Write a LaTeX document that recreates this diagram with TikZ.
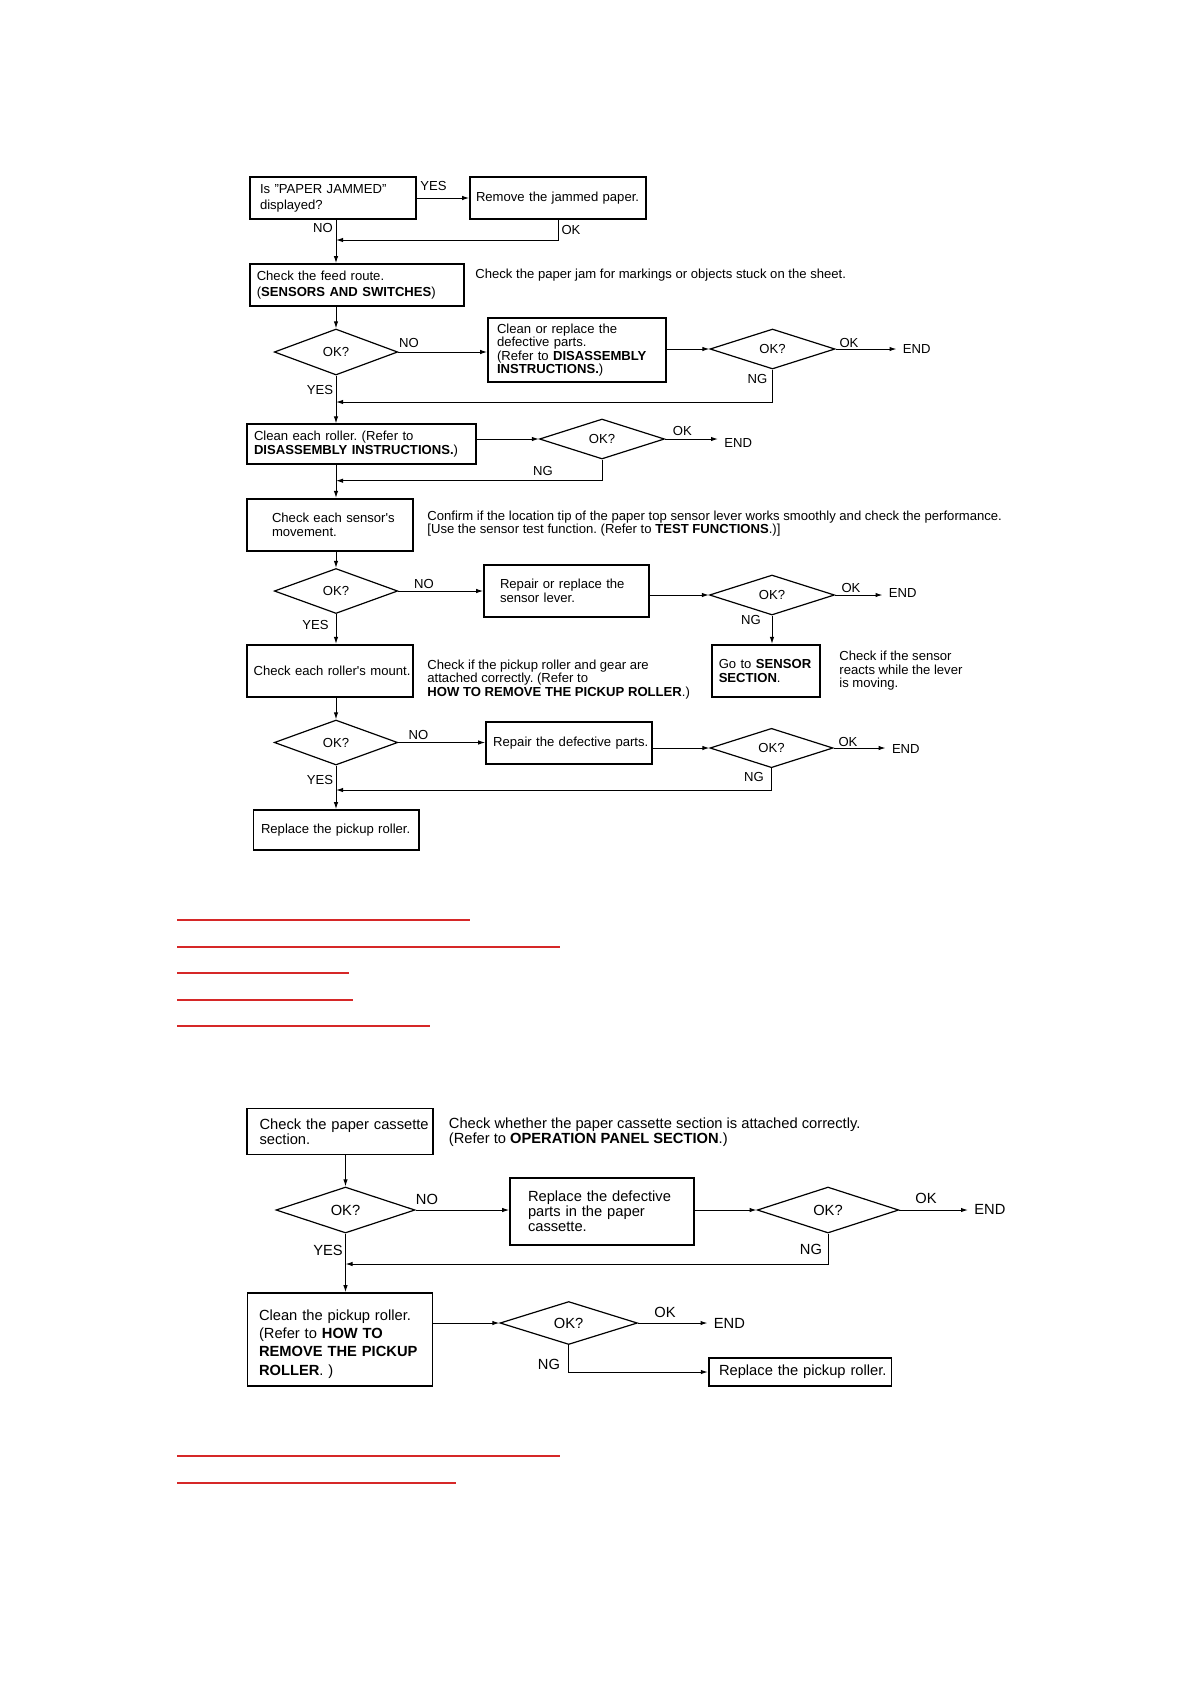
\documentclass[tikz,border=0pt]{standalone}
\usepackage{fontspec}
\setmainfont{Liberation Sans}
\usetikzlibrary{shapes.geometric,arrows.meta}
\definecolor{linkred}{RGB}{214,40,40}
\newcommand\chartfont{\fontsize{6.55}{6.7}\selectfont}
\newcommand\widefont{\fontsize{6.55}{8}\selectfont}
\newcommand\cassfont{\fontsize{7.35}{7.6}\selectfont}
\frenchspacing

\begin{document}
\begin{tikzpicture}[x=0.5pt,y=-0.5pt,
  box/.style={draw,line width=0.8pt,align=left,inner ysep=1pt,font=\chartfont},
  dia/.style={diamond,draw,line width=0.6pt,inner sep=0pt,font=\chartfont},
  lbl/.style={inner sep=0pt,font=\chartfont},
  endlbl/.style={lbl,anchor=west,inner xsep=3pt},
  note/.style={anchor=west,align=left,inner sep=0pt,font=\chartfont},
  flow/.style={line width=0.5pt,-{Latex[length=3.5pt,width=2.2pt]}},
  link/.style={linkred,line width=0.6pt}]
\useasboundingbox (0,0) rectangle (1190,1682);

% paper jam chart
\node[box,font=\widefont,text width=73pt,inner xsep=5pt,minimum height=21pt] at (333,198) (isjam) {Is "PAPER JAMMED"\\displayed?};
\node[box,text width=82pt,inner xsep=3pt,minimum height=21pt] at (558,198) (remove) {Remove the jammed paper.};
\node[box,font=\widefont,text width=100.25pt,inner xsep=3.25pt,minimum height=21pt] at (357,285) (feed) {Check the feed route.\\(\textbf{SENSORS AND SWITCHES})};
\node[note] at (475,275) (note1) {Check the paper jam for markings or objects stuck on the sheet.};

\node[dia,minimum width=61.7pt,minimum height=23pt] at (336,352) (d1) {OK?};
\node[box,text width=80pt,inner xsep=4.5pt,minimum height=32.2pt] at (577,350) (clean1) {Clean or replace the\\defective parts.\\(Refer to \textbf{DISASSEMBLY}\\\textbf{INSTRUCTIONS.})};
\node[dia,minimum width=62.5pt,minimum height=20pt] at (772.5,349) (d2) {OK?};
\node[endlbl] at (896.5,349) (end1) {END};

\node[box,text width=107.5pt,inner xsep=3.5pt,minimum height=19.75pt] at (361.5,444) (roller1) {Clean each roller. (Refer to\\\textbf{DISASSEMBLY INSTRUCTIONS.})};
\node[dia,minimum width=62.5pt,minimum height=20pt] at (602,439) (d3) {OK?};
\node[endlbl] at (718,443) (end2) {END};

\node[box,text width=58pt,inner xsep=12.5pt,minimum height=26.25pt] at (330,525) (sensor) {\mbox{Check each sensor\textquotesingle s}\\movement.};
\node[note] at (427,523.5) (note2) {Confirm if the location tip of the paper top sensor lever works smoothly and check the performance.\\{[}Use the sensor test function. (Refer to \textbf{TEST FUNCTIONS}.)]};

\node[dia,minimum width=61.7pt,minimum height=22.5pt] at (336,591) (d4) {OK?};
\node[box,text width=66.5pt,inner xsep=8pt,minimum height=25.75pt] at (566.5,591) (lever) {Repair or replace the\\sensor lever.};
\node[dia,minimum width=62.5pt,minimum height=20pt] at (772,595) (d5) {OK?};
\node[endlbl] at (882.5,593) (end3) {END};

\node[box,text width=76.4pt,inner xsep=3.3pt,minimum height=26.25pt] at (330,671) (mount) {\mbox{Check each roller\textquotesingle s mount.}};
\node[note] at (427,679.5) (note3) {Check if the pickup roller and gear are\\attached correctly. (Refer to\\\textbf{HOW TO REMOVE THE PICKUP ROLLER}.)};
\node[box,text width=47.25pt,inner xsep=3.25pt,minimum height=26.25pt] at (766,671) (sensorsec) {Go to \textbf{SENSOR}\\\textbf{SECTION}.};
\node[note] at (839,671) (note4) {Check if the sensor\\reacts while the lever\\is moving.};

\node[dia,minimum width=61.7pt,minimum height=22.5pt] at (336,742.5) (d6) {OK?};
\node[box,text width=75.8pt,inner xsep=3.6pt,minimum height=21pt] at (569,743) (repair) {\mbox{Repair the defective parts.}};
\node[dia,minimum width=61.5pt,minimum height=19.7pt] at (771.5,748) (d7) {OK?};
\node[endlbl] at (885.6,749) (end4) {END};

\node[box,text width=75pt,inner xsep=3.85pt,minimum height=20pt] at (336,830) (replace) {Replace the pickup roller.};

% branch labels
\node[lbl] at (433.5,185.6) (yes1) {YES};
\node[lbl] at (323,227.5) (no1) {NO};
\node[lbl] at (571,229.6) (ok1) {OK};
\node[lbl] at (409,343) (no2) {NO};
\node[lbl] at (849,343) (ok2) {OK};
\node[lbl] at (757.5,379) (ng2) {NG};
\node[lbl] at (320,389.5) (yes2) {YES};
\node[lbl] at (682.4,431) (ok3) {OK};
\node[lbl] at (543,471) (ng3) {NG};
\node[lbl] at (424,584) (no4) {NO};
\node[lbl] at (851,588) (ok5) {OK};
\node[lbl] at (751,620) (ng5) {NG};
\node[lbl] at (315.5,624.5) (yes4) {YES};
\node[lbl] at (418.5,735) (no6) {NO};
\node[lbl] at (848,741.5) (ok7) {OK};
\node[lbl] at (754,777) (ng7) {NG};
\node[lbl] at (320,780) (yes6) {YES};

\coordinate (j1) at (336,240);
\coordinate (j2) at (336,402);
\coordinate (j3) at (336,480.7);
\coordinate (j4) at (336,790);

\draw[flow] (isjam.east) -- (remove.west);
\draw[flow] (remove.south) |- (j1);
\draw[flow] (isjam.south -| j1) -- (feed.north -| j1);
\draw[flow] (feed.south -| d1) -- (d1.north);
\draw[flow] (d1.east) -- (d1.east -| clean1.west);
\draw[flow] (clean1.east |- d2) -- (d2.west);
\draw[flow] (d2.east) -- (d2.east -| end1.west);
\draw[flow] (d2.south) |- (j2);
\draw[flow] (d1.south) -- (roller1.north -| d1);
\draw[flow] (roller1.east |- d3) -- (d3.west);
\draw[flow] (d3.east) -- (d3.east -| end2.west);
\draw[flow] (d3.south) |- (j3);
\draw[flow] (roller1.south -| j3) -- (sensor.north -| j3);
\draw[flow] (sensor.south -| d4) -- (d4.north);
\draw[flow] (d4.east) -- (d4.east -| lever.west);
\draw[flow] (lever.east |- d5) -- (d5.west);
\draw[flow] (d5.east) -- (d5.east -| end3.west);
\draw[flow] (d5.south) -- (sensorsec.north -| d5);
\draw[flow] (d4.south) -- (mount.north -| d4);
\draw[flow] (mount.south -| d6) -- (d6.north);
\draw[flow] (d6.east) -- (d6.east -| repair.west);
\draw[flow] (repair.east |- d7) -- (d7.west);
\draw[flow] (d7.east) -- (d7.east -| end4.west);
\draw[flow] (d7.south) |- (j4);
\draw[flow] (d6.south) -- (replace.north -| d6);

% links
\draw[link] (177,920) -- (470,920);
\draw[link] (177,947) -- (560,947);
\draw[link] (177,973) -- (349,973);
\draw[link] (177,1000) -- (353,1000);
\draw[link] (177,1026) -- (430,1026);

% paper cassette chart
\node[box,font=\cassfont,text width=80.45pt,inner xsep=6.4pt,minimum height=23pt] at (340,1131.5) (cassette) {\mbox{Check the paper cassette}\\section.};
\node[note,font=\cassfont] at (448.5,1132) (note5) {Check whether the paper cassette section is attached correctly.\\(Refer to \textbf{OPERATION PANEL SECTION}.)};
\node[dia,font=\cassfont,minimum width=69.5pt,minimum height=23pt] at (345.5,1210) (d8) {OK?};
\node[box,font=\cassfont,text width=74pt,inner xsep=9pt,minimum height=33.5pt] at (602,1211.5) (cassrep) {Replace the defective\\parts in the paper\\cassette.};
\node[dia,font=\cassfont,minimum width=70.75pt,minimum height=23pt] at (828,1210) (d9) {OK?};
\node[endlbl,font=\cassfont] at (968,1209) (end5) {END};
\node[box,font=\fontsize{7.35}{9.1}\selectfont,text width=81pt,inner xsep=5.8pt,minimum height=46.5pt] at (340,1339.5) (pickup) {\rule{0pt}{9.8pt}Clean the pickup roller.\\(Refer to \textbf{HOW TO}\\\textbf{REMOVE THE PICKUP}\\\textbf{ROLLER}. )};
\node[dia,font=\cassfont,minimum width=68.7pt,minimum height=21.5pt] at (568.7,1323) (d10) {OK?};
\node[endlbl,font=\cassfont] at (707.5,1323) (end6) {END};
\node[box,font=\cassfont,text width=81pt,inner xsep=5.15pt,minimum height=14pt] at (800,1372) (pickrep) {\mbox{Replace the pickup roller.}};

\node[lbl,font=\cassfont] at (427,1199.6) (no8) {NO};
\node[lbl,font=\cassfont] at (926,1198.5) (ok9) {OK};
\node[lbl,font=\cassfont] at (811,1249) (ng9) {NG};
\node[lbl,font=\cassfont] at (328,1250) (yes8) {YES};
\node[lbl,font=\cassfont] at (665,1312) (ok10) {OK};
\node[lbl,font=\cassfont] at (549,1364) (ng10) {NG};

\coordinate (j5) at (345.5,1264);

\draw[flow] (cassette.south -| d8) -- (d8.north);
\draw[flow] (d8.east) -- (d8.east -| cassrep.west);
\draw[flow] (cassrep.east |- d9) -- (d9.west);
\draw[flow] (d9.east) -- (d9.east -| end5.west);
\draw[flow] (d9.south) |- (j5);
\draw[flow] (d8.south) -- (pickup.north -| d8);
\draw[flow] (pickup.east |- d10) -- (d10.west);
\draw[flow] (d10.east) -- (d10.east -| end6.west);
\draw[flow] (d10.south) |- (pickrep.west);

% links
\draw[link] (177,1456) -- (560,1456);
\draw[link] (177,1483) -- (456,1483);
\end{tikzpicture}
\end{document}
